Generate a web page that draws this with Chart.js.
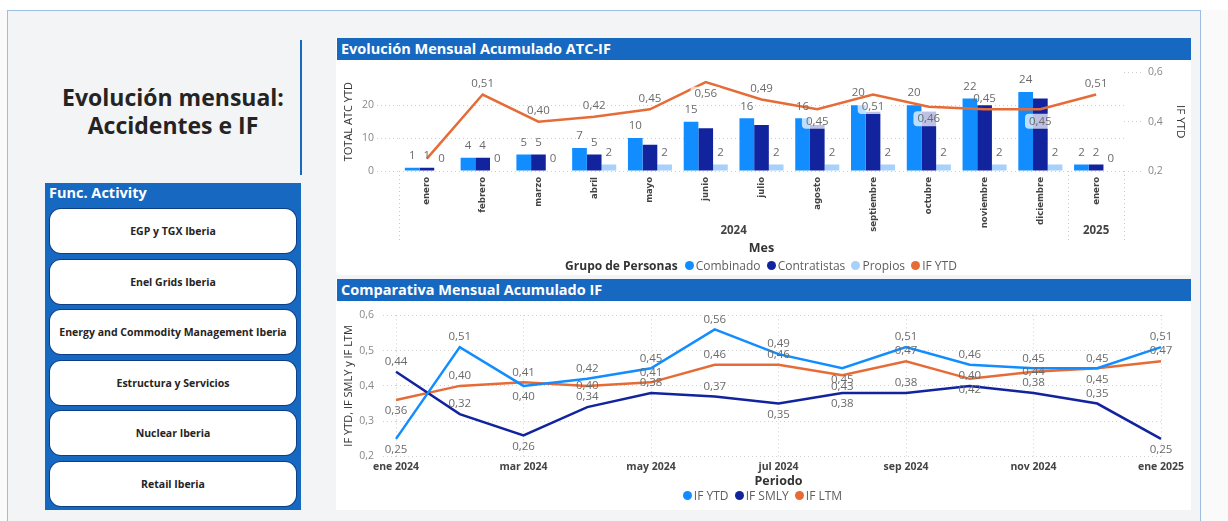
<!DOCTYPE html>
<html><head><meta charset="utf-8">
<script src="https://cdn.jsdelivr.net/npm/chart.js@4.4.1/dist/chart.umd.min.js"></script>
<style>
html,body{margin:0;padding:0;width:1228px;height:521px;overflow:hidden;background:#fafafa;font-family:'Open Sans','Noto Sans',sans-serif;}
#frame{position:absolute;left:7px;top:10px;width:1194px;height:520px;background:#f3f4f6;border:1px solid #9dbde3;box-sizing:border-box;}
#topw{position:absolute;left:0;top:0;width:1228px;height:10px;background:#fff;}
#title{position:absolute;left:20px;top:83px;width:306px;text-align:center;font:700 23px/28px 'Open Sans',sans-serif;color:#252423;}
#vline{position:absolute;left:300px;top:40px;width:2px;height:135px;background:#1668c1;}
#slicer{position:absolute;left:45px;top:183px;width:256px;height:327px;background:#1668c1;}
#slicer .hd{position:absolute;left:4px;top:0px;font:700 14.5px 'Open Sans',sans-serif;color:#fff;}
#slicer .bt{position:absolute;left:5px;width:246px;height:44px;background:#fff;border-radius:11px;box-shadow:0 0 0 1px #0e3f86;display:flex;align-items:center;justify-content:center;font:700 10.5px 'Open Sans',sans-serif;color:#252423;white-space:nowrap;}
.panel{position:absolute;left:336px;width:855px;background:#fff;}
.panel .bar{position:absolute;left:1px;top:0;right:0;height:22px;background:#1668c1;color:#fff;font:700 14.5px/22px 'Open Sans',sans-serif;padding-left:4px;box-sizing:border-box;}
canvas{position:absolute;}
.leg{position:absolute;left:337px;width:848px;text-align:center;font:12px 'Open Sans',sans-serif;color:#605e5c;white-space:nowrap;}
.leg b{color:#333;font-weight:700;margin-right:4px;}
.leg i{display:inline-block;width:9px;height:9px;border-radius:50%;margin:0 2px 0 3px;}
</style></head><body>
<div id="topw"></div>
<div id="frame"></div>
<div id="title">Evolución mensual:<br>Accidentes e IF</div>
<div id="vline"></div>
<div id="slicer"><div class="hd">Func. Activity</div></div>
<div class="panel" style="top:38px;height:237px;"><div class="bar">Evolución Mensual Acumulado ATC-IF</div></div>
<div class="panel" style="top:279px;height:231px;"><div class="bar">Comparativa Mensual Acumulado IF</div></div>
<canvas id="c1" width="854" height="215" style="left:337px;top:60px;width:854px;height:215px;"></canvas>
<canvas id="c2" width="854" height="210" style="left:337px;top:300px;width:854px;height:210px;"></canvas>
<div class="leg" id="leg1" style="top:257px;"></div>
<div class="leg" id="leg2" style="top:487px;"></div>
<script>
// ---- data ----
const activities = ['EGP y TGX Iberia','Enel Grids Iberia','Energy and Commodity Management Iberia','Estructura y Servicios','Nuclear Iberia','Retail Iberia'];
const months = ['enero','febrero','marzo','abril','mayo','junio','julio','agosto','septiembre','octubre','noviembre','diciembre','enero'];
const monthYear = ['2024','2024','2024','2024','2024','2024','2024','2024','2024','2024','2024','2024','2025'];
const combinado = [1,4,5,7,10,15,16,16,20,20,22,24,2];
const contratistas = [1,4,5,5,8,13,14,14,18,18,20,22,2];
const propios = [0,0,0,2,2,2,2,2,2,2,2,2,0];
const ifYtd = [0.25,0.51,0.40,0.42,0.45,0.56,0.49,0.45,0.51,0.46,0.45,0.45,0.51];
const atcTicks = [0,10,20];
const ifTicks = [0.2,0.4,0.6];
const periods = ['ene 2024','feb 2024','mar 2024','abr 2024','may 2024','jun 2024','jul 2024','ago 2024','sep 2024','oct 2024','nov 2024','dic 2024','ene 2025'];
const ifSmly = [0.44,0.32,0.26,0.34,0.38,0.37,0.35,0.38,0.38,0.40,0.38,0.35,0.25];
const ifLtm = [0.36,0.40,0.41,0.40,0.41,0.46,0.46,0.43,0.47,0.42,0.44,0.45,0.47];
const cmpTicks = [0.2,0.3,0.4,0.5,0.6];

// ---- slicer buttons ----
const slicer = document.getElementById('slicer');
activities.forEach((a,i)=>{const d=document.createElement('div');d.className='bt';d.style.top=(26+i*50.6)+'px';d.textContent=a;slicer.appendChild(d);});

const FONT = "'Open Sans','Noto Sans',sans-serif";
Chart.defaults.font.family = FONT;
Chart.defaults.color = '#777';
const comma = (v,d)=>Number(v).toFixed(d).replace('.',',');

const labelPlugin = {
  id:'vlabels',
  afterDatasetsDraw(chart, args, opts){
    const ctx = chart.ctx;
    (opts.sets||[]).forEach(cfg=>{
      const meta = chart.getDatasetMeta(cfg.index);
      const ds = chart.data.datasets[cfg.index];
      meta.data.forEach((el,i)=>{
        const p = cfg.pos ? cfg.pos[i] : 'a';
        if (p==='n') return;
        const txt = cfg.dec!=null ? comma(ds.data[i],cfg.dec) : String(ds.data[i]);
        const off = p==='a' ? cfg.above : (p==='b' ? cfg.below : 0);
        const x = el.x, y = el.y + off;
        ctx.save();
        ctx.font = opts.font;
        ctx.textAlign='center'; ctx.textBaseline='middle';
        if (cfg.box && p!=='a'){
          const w = ctx.measureText(txt).width + 8, h = 15;
          ctx.fillStyle='rgba(255,255,255,0.72)';
          ctx.beginPath(); ctx.roundRect(x-w/2,y-h/2,w,h,4); ctx.fill();
        }
        ctx.fillStyle = opts.color;
        ctx.fillText(txt,x,y);
        ctx.restore();
      });
    });
  }
};

const yearPlugin = {
  id:'years',
  afterDraw(chart, args, opts){
    const xs = chart.scales.x, ca = chart.chartArea, ctx = chart.ctx;
    const w = xs.width / months.length;
    const groups = [];
    monthYear.forEach((y,i)=>{ if(!groups.length || groups[groups.length-1].y!==y) groups.push({y,from:i,to:i}); else groups[groups.length-1].to=i; });
    ctx.save();
    ctx.strokeStyle='#c8c8c8'; ctx.lineWidth=1; ctx.setLineDash([1,3]);
    const edges = [xs.getPixelForValue(0)-w/2];
    groups.forEach(g=>edges.push(xs.getPixelForValue(g.to)+w/2));
    edges.forEach(x=>{ctx.beginPath();ctx.moveTo(Math.round(x)+0.5,ca.bottom);ctx.lineTo(Math.round(x)+0.5,ca.bottom+70);ctx.stroke();});
    ctx.setLineDash([]);
    ctx.font = "700 11.5px "+FONT; ctx.fillStyle='#444'; ctx.textAlign='center'; ctx.textBaseline='middle';
    groups.forEach(g=>{
      const cx = (xs.getPixelForValue(g.from)+xs.getPixelForValue(g.to))/2;
      ctx.fillText(g.y, cx, ca.bottom+60);
    });
    ctx.restore();
  }
};

function htmlLegend(chart, el, title){
  let h = title ? '<b>'+title+'</b>' : '';
  chart.data.datasets.forEach(ds=>{
    const c = ds.type==='line' || chart.config.type==='line' ? ds.borderColor : ds.backgroundColor;
    h += '<i style="background:'+c+'"></i>'+ds.label+' ';
  });
  el.innerHTML = h;
}

const gridDash = {dash:[1,3], display:false};

// ---- chart 1 ----
const ch1 = new Chart(document.getElementById('c1'), {
  type:'bar',
  data:{
    labels: months,
    datasets:[
      {label:'Combinado', data:combinado, backgroundColor:'#118DFF', yAxisID:'y', order:1, categoryPercentage:0.79, barPercentage:1},
      {label:'Contratistas', data:contratistas, backgroundColor:'#12239E', yAxisID:'y', order:1, categoryPercentage:0.79, barPercentage:1},
      {label:'Propios', data:propios, backgroundColor:'#A7D0FA', yAxisID:'y', order:1, categoryPercentage:0.79, barPercentage:1},
      {type:'line', label:'IF YTD', data:ifYtd, borderColor:'#E66C37', backgroundColor:'#E66C37', borderWidth:2.5, pointRadius:0, tension:0, yAxisID:'y1', order:0}
    ]
  },
  options:{
    responsive:false, animation:false, devicePixelRatio:1,
    layout:{padding:{top:11,left:0,right:0,bottom:0}},
    plugins:{legend:{display:false}, tooltip:{enabled:false},
      vlabels:{font:"11.5px "+FONT, color:'#6b6b6b', sets:[
        {index:0, above:-12},
        {index:1, above:-12, pos:['a','a','a','a','n','n','n','n','n','n','n','n','a']},
        {index:2, above:-12},
        {index:3, above:-11, below:12, dec:2, box:true, pos:['n','a','a','a','a','b','a','b','b','b','a','b','a']}
      ]}},
    scales:{
      x:{
        grid:{display:false, drawTicks:false}, border:{display:false},
        ticks:{autoSkip:false, minRotation:90, maxRotation:90, padding:6, color:'#444',
          font:{family:"'Liberation Sans Narrow','DejaVu Sans Condensed',"+FONT, size:9.5, weight:'700'}},
        title:{display:true, text:'Mes', color:'#333', font:{size:12.5, weight:'700'}, padding:{bottom:19, top:0}},
        afterFit(s){ s.height = 104; }
      },
      y:{
        position:'left', min:0, max:30,
        afterBuildTicks(s){ s.ticks = atcTicks.map(v=>({value:v})); },
        grid:{color:'#cfcfcf', tickLength:22, tickColor:'#cfcfcf', tickBorderDash:[1,3]}, border:gridDash,
        ticks:{padding:3, color:'#888', font:{size:10.5}},
        title:{display:true, text:'TOTAL ATC YTD', color:'#333', font:{size:11}, padding:{top:5}},
        afterFit(s){ s.width = 62; }
      },
      y1:{
        position:'right', min:0.2, max:0.6,
        afterBuildTicks(s){ s.ticks = ifTicks.map(v=>({value:v})); },
        grid:{drawOnChartArea:false, color:'#cfcfcf', tickLength:18, tickBorderDash:[1,3]}, border:gridDash,
        ticks:{padding:6, color:'#888', font:{size:10.5}, callback:v=>comma(v,1)},
        title:{display:true, text:'IF YTD', color:'#333', font:{size:11.5}, padding:{top:4}},
        afterFit(s){ s.width = 67; }
      }
    }
  },
  plugins:[labelPlugin, yearPlugin]
});
htmlLegend(ch1, document.getElementById('leg1'), 'Grupo de Personas');

// ---- chart 2 ----
const ch2 = new Chart(document.getElementById('c2'), {
  type:'line',
  data:{
    labels: periods,
    datasets:[
      {label:'IF YTD', data:ifYtd, borderColor:'#118DFF', backgroundColor:'#118DFF', borderWidth:2.5, pointRadius:0, tension:0},
      {label:'IF SMLY', data:ifSmly, borderColor:'#12239E', backgroundColor:'#12239E', borderWidth:2.5, pointRadius:0, tension:0},
      {label:'IF LTM', data:ifLtm, borderColor:'#E66C37', backgroundColor:'#E66C37', borderWidth:2.5, pointRadius:0, tension:0}
    ]
  },
  options:{
    responsive:false, animation:false, devicePixelRatio:1,
    layout:{padding:{top:11,left:0,right:30,bottom:0}},
    plugins:{legend:{display:false}, tooltip:{enabled:false},
      vlabels:{font:"11.5px "+FONT, color:'#6b6b6b', sets:[
        {index:0, above:-10, below:11, dec:2, pos:['b','a','b','a','a','a','a','b','a','a','a','a','a']},
        {index:1, above:-10, below:11, dec:2, pos:['a','a','b','a','a','a','b','b','a','a','a','a','b']},
        {index:2, above:-10, below:11, dec:2, pos:['b','a','a','c','a','a','a','b','a','b','c','b','a']}
      ]}},
    scales:{
      x:{
        offset:false,
        grid:{drawTicks:false, color:c=>c.index%2===0?'#d0d0d0':'rgba(0,0,0,0)'}, border:gridDash,
        ticks:{autoSkip:false, maxRotation:0, minRotation:0, padding:4, color:'#444', font:{size:10.5, weight:'700'},
          callback:(v,i)=> i%2===0 ? periods[i] : ''},
        title:{display:true, text:'Periodo', color:'#333', font:{size:12.5, weight:'700'}, padding:{bottom:21, top:0}},
        afterFit(s){ s.height = 53.5; }
      },
      y:{
        min:0.2, max:0.6,
        afterBuildTicks(s){ s.ticks = cmpTicks.map(v=>({value:v})); },
        grid:{color:'#d0d0d0', tickLength:13, tickColor:'#d0d0d0', tickBorderDash:[1,3]}, border:gridDash,
        ticks:{padding:9, color:'#888', font:{size:10.5}, callback:v=>comma(v,1)},
        title:{display:true, text:'IF YTD, IF SMLY y IF LTM', color:'#333', font:{size:11}, padding:{top:5}},
        afterFit(s){ s.width = 59; }
      }
    }
  },
  plugins:[labelPlugin]
});
htmlLegend(ch2, document.getElementById('leg2'), '');
</script>
</body></html>
